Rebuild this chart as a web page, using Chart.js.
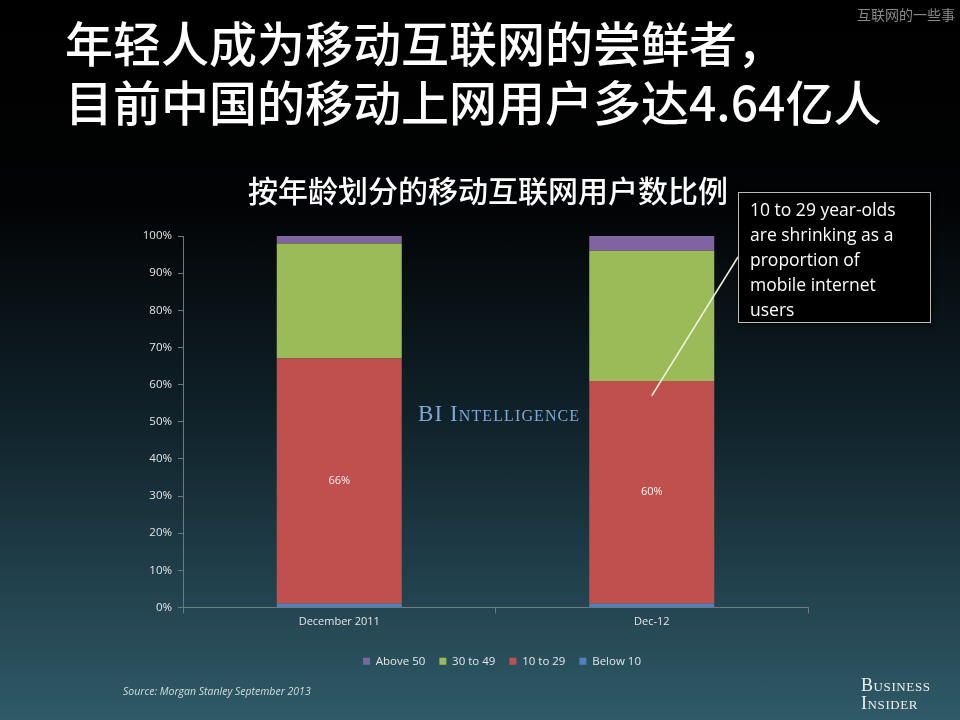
<!DOCTYPE html>
<html>
<head>
<meta charset="utf-8">
<script src="https://cdn.jsdelivr.net/npm/chart.js@4/dist/chart.umd.min.js"></script>
<style>
  html, body { margin: 0; padding: 0; }
  body {
    width: 960px; height: 720px; position: relative; overflow: hidden;
    background: linear-gradient(to bottom, #000 0%, #020304 28%, #10222a 58%, #2f5a68 100%);
    font-family: "Open Sans", sans-serif;
  }
  #chartBox { position: absolute; left: 0; top: 0; width: 960px; height: 720px; }
  .title {
    position: absolute; left: 65px; color: #fff; white-space: nowrap;
    font-family: "Noto Sans CJK SC", sans-serif; font-weight: 500; font-size: 48px; line-height: 50px;
  }
  .sub {
    position: absolute; left: 248px; top: 173px; color: #fff; white-space: nowrap;
    font-family: "Noto Sans CJK SC", sans-serif; font-weight: 500; font-size: 30px; line-height: 32px;
  }
  .mark {
    position: absolute; right: 5px; top: 4px; color: #8a8a8a; font-size: 14px;
    font-family: "Noto Sans CJK SC", sans-serif;
    text-shadow: 0 0 1px #000;
  }
  .note {
    position: absolute; left: 738px; top: 192px; width: 178px; height: 121px;
    background: #000; border: 1px solid #bbb; padding: 4px 2px 4px 11px;
    color: #fff; font-size: 17.5px; line-height: 25px; box-shadow: 2px 2px 4px rgba(0,0,0,0.6);
    white-space: nowrap;
  }
  .bi {
    position: absolute; left: 418px; top: 401px; color: #7ea8d8;
    font-family: "Liberation Serif", serif; font-variant: small-caps; font-size: 23px;
    letter-spacing: 1.1px;
  }
  .src {
    position: absolute; left: 123px; top: 684px; color: #d0dde0; font-style: italic; font-size: 10.5px;
  }
  .logo {
    position: absolute; left: 861px; top: 676px; color: #f0f0f0;
    font-family: "Liberation Serif", serif; font-variant: small-caps; font-size: 18px;
    line-height: 18px; letter-spacing: 0.6px;
  }
</style>
</head>
<body>
<div id="chartBox"><canvas id="ageChart" width="960" height="720"></canvas></div>
<div class="mark">互联网的一些事</div>
<div class="title" style="top:16px">年轻人成为移动互联网的尝鲜者，</div>
<div class="title" style="top:75px">目前中国的移动上网用户多达4.64亿人</div>
<div class="sub">按年龄划分的移动互联网用户数比例</div>
<div class="bi">BI Intelligence</div>
<div class="note">10 to 29 year-olds<br>are shrinking as a<br>proportion of<br>mobile internet<br>users</div>
<div class="src">Source: Morgan Stanley September 2013</div>
<div class="logo">Business<br>Insider</div>
<script>
const categories = ["December 2011", "Dec-12"];
const below10 = [1, 1];
const age10to29 = [66, 60];
const age30to49 = [31, 35];
const above50 = [2, 4];
const yTicks = [0, 10, 20, 30, 40, 50, 60, 70, 80, 90, 100];

// labels on the red segment + pointer line to the note box
const extras = {
    id: "extras",
    afterLayout(chart) {
        // legend in the original sits a little right of centre
        chart.legend.left += 33;
        chart.legend.right += 33;
    },
    afterDatasetsDraw(chart) {
        const ctx = chart.ctx;
        const meta = chart.getDatasetMeta(1);
        ctx.save();
        ctx.fillStyle = "#f2f2f2";
        ctx.font = "11px 'Open Sans'";
        ctx.textAlign = "center";
        ctx.textBaseline = "middle";
        meta.data.forEach(function(bar, i) {
            const mid = (bar.y + bar.base) / 2;
            ctx.fillText(age10to29[i] + "%", bar.x, mid);
        });
        // pointer from Dec-12 bar to the note
        const bar = meta.data[1];
        const y = chart.scales.y.getPixelForValue(below10[1] + age10to29[1] - 4);
        ctx.strokeStyle = "#eef3dc";
        ctx.lineWidth = 1.5;
        ctx.beginPath();
        ctx.moveTo(bar.x, y);
        ctx.lineTo(738, 257);
        ctx.stroke();
        ctx.restore();
    }
};

new Chart(document.getElementById("ageChart"), {
    type: "bar",
    data: {
        labels: categories,
        datasets: [
            { label: "Below 10", data: below10, backgroundColor: "#4f81bd" },
            { label: "10 to 29", data: age10to29, backgroundColor: "#c0504d" },
            { label: "30 to 49", data: age30to49, backgroundColor: "#9bbb59" },
            { label: "Above 50", data: above50, backgroundColor: "#8064a2" }
        ]
    },
    options: {
        responsive: false,
        animation: false,
        devicePixelRatio: 1,
        layout: { padding: { left: 130, right: 152, top: 236, bottom: 43 } },
        datasets: { bar: { barPercentage: 0.4, categoryPercentage: 1 } },
        scales: {
            x: {
                stacked: true,
                grid: { drawOnChartArea: false, color: "#6a7a80", tickLength: 6 },
                border: { color: "#6a7a80" },
                ticks: { color: "#e6e6e6", font: { family: "Open Sans", size: 11 }, padding: 2 },
                afterFit(scale) { scale.height = 34; }
            },
            y: {
                stacked: true,
                min: 0,
                max: 100,
                afterBuildTicks(scale) { scale.ticks = yTicks.map(v => ({ value: v })); },
                grid: { drawOnChartArea: false, color: "#6a7a80", tickLength: 5 },
                border: { color: "#6a7a80" },
                ticks: {
                    color: "#e6e6e6",
                    font: { family: "Open Sans", size: 11.5 },
                    padding: 6,
                    callback: v => v + "%"
                },
                afterFit(scale) { scale.width = 53; }
            }
        },
        plugins: {
            legend: {
                position: "bottom",
                reverse: true,
                labels: {
                    color: "#e6e6e6",
                    font: { family: "Open Sans", size: 11.5 },
                    boxWidth: 7,
                    boxHeight: 7,
                    padding: 14
                }
            },
            tooltip: { enabled: false }
        }
    },
    plugins: [extras]
});
</script>
</body>
</html>
